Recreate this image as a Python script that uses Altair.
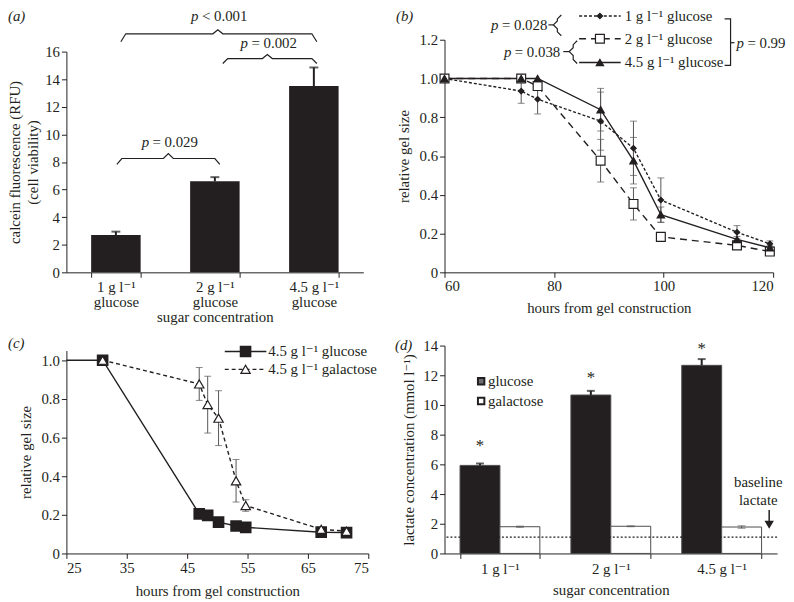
import altair as alt
import pandas as pd

FONT = "Liberation Serif, 'Times New Roman', 'DejaVu Serif', serif"
INK = "#231f20"
FS = 15

# ---------------- data ----------------
# (a) calcein fluorescence
a_categories = ["1 g l\u207b\u00b9", "2 g l\u207b\u00b9", "4.5 g l\u207b\u00b9"]
a_values = [2.7, 6.6, 13.5]
a_errors = [0.25, 0.3, 1.35]
a_ticks = [0, 2, 4, 6, 8, 10, 12, 14, 16]

# (b) relative gel size, three glucose concentrations
b_hours = [60, 74, 77, 88.5, 94.5, 99.5, 113.4, 119.4]
b_series = ["1 g l\u207b\u00b9 glucose", "2 g l\u207b\u00b9 glucose", "4.5 g l\u207b\u00b9 glucose"]
b_vals_1 = [1.0, 0.935, 0.893, 0.78, 0.64, 0.373, 0.207, 0.147]
b_errs_1 = [0, 0.063, 0.076, 0.15, 0.14, 0.114, 0.034, 0.015]
b_vals_2 = [1.0, 1.0, 0.961, 0.576, 0.353, 0.183, 0.139, 0.107]
b_errs_2 = [0, 0, 0.01, 0.11, 0.083, 0.015, 0.01, 0.01]
b_vals_45 = [1.0, 1.0, 1.0, 0.839, 0.576, 0.297, 0.17, 0.127]
b_errs_45 = [0, 0, 0, 0.11, 0.12, 0.04, 0.015, 0.01]
b_xticks = [60, 80, 100, 120]
b_yticks = [0, 0.2, 0.4, 0.6, 0.8, 1.0, 1.2]

# (c) glucose vs galactose
c_series = ["4.5 g l\u207b\u00b9 glucose", "4.5 g l\u207b\u00b9 galactose"]
c_hours_glu = [25, 31, 47, 48.4, 50.2, 53.1, 54.7, 67.2, 71.4]
c_vals_glu = [1.0, 1.0, 0.205, 0.197, 0.162, 0.142, 0.135, 0.11, 0.108]
c_hours_gal = [31, 47, 48.4, 50.2, 53.1, 54.7, 67.2, 71.4]
c_vals_gal = [1.0, 0.877, 0.77, 0.70, 0.376, 0.248, 0.125, 0.115]
c_errs_gal = [0, 0.085, 0.147, 0.142, 0.11, 0.03, 0.01, 0.01]
c_xticks = [25, 35, 45, 55, 65, 75]
c_yticks = [0, 0.2, 0.4, 0.6, 0.8, 1.0]

# (d) lactate
d_categories = ["1 g l\u207b\u00b9", "2 g l\u207b\u00b9", "4.5 g l\u207b\u00b9"]
d_sugars = ["glucose", "galactose"]
d_glu = [5.93, 10.67, 12.67]
d_glu_err = [0.13, 0.28, 0.42]
d_gal = [1.8, 1.83, 1.78]
d_gal_err = [0.04, 0.03, 0.08]
d_star_y = [7.2, 11.8, 13.8]
d_baseline = 1.1
d_ticks = [0, 2, 4, 6, 8, 10, 12, 14]

ONE = pd.DataFrame({"k": [0]})


# ---------------- helpers ----------------
def txt(s, x, y, italic=False, align="left", size=FS, baseline="middle"):
    return alt.Chart(ONE).mark_text(
        text=s, align=align, baseline=baseline, font=FONT, fontSize=size,
        fontStyle="italic" if italic else "normal", color=INK
    ).encode(x=alt.value(x), y=alt.value(y))


def ptext(x, y, rest):
    return txt("p", x, y, italic=True) + txt(rest, x + 11, y)


def poly(points, interp="linear", width=1.2):
    df = pd.DataFrame({"px": [p[0] for p in points], "py": [p[1] for p in points],
                       "o": list(range(len(points)))})
    return alt.Chart(df).mark_line(color=INK, strokeWidth=width, interpolate=interp).encode(
        x=alt.X("px:Q", scale=None, axis=None),
        y=alt.Y("py:Q", scale=None, axis=None),
        order="o:Q",
    )


def hbrace(x0, x1, xc, ye, ym, yt, d=5):
    return poly([(x0, ye), (x0 + d, ym), (xc - d, ym), (xc, yt), (xc + d, ym), (x1 - d, ym), (x1, ye)])


def vbrace_left(xl, y0, y1, yt, d=4):
    return poly([(xl + 2 * d, y0), (xl + d, y0 + d), (xl + d, yt - d), (xl, yt),
                 (xl + d, yt + d), (xl + d, y1 - d), (xl + 2 * d, y1)])


def rule_px(x, x2, y, y2=None, dash=None, width=1.5, color=INK):
    kw = dict(color=color, strokeWidth=width)
    if dash:
        kw["strokeDash"] = dash
    enc = dict(x=alt.value(x), x2=alt.value(x2), y=alt.value(y))
    if y2 is not None:
        enc["y2"] = alt.value(y2)
    return alt.Chart(ONE).mark_rule(**kw).encode(**enc)


def panel_label(letter, x, y):
    return txt("(" + letter + ")", x, y, italic=True)


yfmt = "datum.value == 0 ? '0' : format(datum.value, '.1f')"

# ---------------- panel (a) ----------------
a_df = pd.DataFrame({"cat": a_categories, "v": a_values, "e": a_errors})
a_df["top"] = a_df["v"] + a_df["e"]
xa = alt.X("cat:N", sort=a_categories,
           scale=alt.Scale(paddingInner=0.5, paddingOuter=0.25),
           axis=alt.Axis(title="sugar concentration", labelAngle=0, tickBand="extent",
                         labelExpr="datum.label ? [datum.label, 'glucose'] : ''", labelLineHeight=16,
                         titlePadding=0, labelPadding=2, labelOverlap=False))
ya = alt.Y("v:Q", scale=alt.Scale(domain=[0, 16], range=[235, 12], nice=False),
           axis=alt.Axis(values=a_ticks, title=["calcein fluorescence (RFU)", "(cell viability)"],
                         titlePadding=4, titleLineHeight=18, labelPadding=2, labelOverlap=False,
                         tickCount=9))
a_bars = alt.Chart(a_df).mark_bar(color=INK).encode(x=xa, y=ya)
a_err = alt.Chart(a_df).mark_rule(color=INK, strokeWidth=2).encode(
    x=alt.X("cat:N", sort=a_categories), y="v:Q", y2="top:Q")
a_cap = alt.Chart(a_df).mark_tick(color=INK, size=9, thickness=2, orient="horizontal").encode(
    x=alt.X("cat:N", sort=a_categories), y="top:Q")

panel_a = alt.layer(
    a_bars, a_err, a_cap,
    hbrace(51, 155, 103, 126, 120, 115), ptext(76, 103, "= 0.029"),
    hbrace(158, 253, 203, 24, 19, 15), ptext(176, 3, "= 0.002"),
    hbrace(55, 253, 153, 2, -6, -10), ptext(126, -24, "< 0.001"),
    panel_label("a", -59, -24),
).properties(width=300, height=235)

# ---------------- panel (b) ----------------
b_styles = [
    dict(name=b_series[0], vals=b_vals_1, errs=b_errs_1, dash=[3, 2], shape="diamond",
         fill=INK, size=30),
    dict(name=b_series[1], vals=b_vals_2, errs=b_errs_2, dash=[7, 5], shape="square",
         fill="white", size=80),
    dict(name=b_series[2], vals=b_vals_45, errs=b_errs_45, dash=None, shape="triangle-up",
         fill=INK, size=55),
]
xb = alt.X("h:Q", scale=alt.Scale(domain=[60, 120], nice=False),
           axis=alt.Axis(values=b_xticks, title="hours from gel construction", labelPadding=1,
                         titlePadding=8, labelOverlap=False))
yb = alt.Y("v:Q", scale=alt.Scale(domain=[0, 1.2], nice=False),
           axis=alt.Axis(values=b_yticks, title="relative gel size", labelExpr=yfmt, titlePadding=8,
                         labelOverlap=False, tickCount=7))
b_layers = []
b_points = []
legend_rows = [-24, -1, 23]
for i, (st, ry) in enumerate(zip(b_styles, legend_rows)):
    df = pd.DataFrame({"h": b_hours, "v": st["vals"], "e": st["errs"]})
    df["lo"] = df["v"] - df["e"]
    df["hi"] = df["v"] + df["e"]
    lk = dict(color=INK, strokeWidth=1.4)
    if st["dash"]:
        lk["strokeDash"] = st["dash"]
    b_layers.append(alt.Chart(df).mark_line(**lk).encode(x=xb if i == 0 else "h:Q",
                                                          y=yb if i == 0 else "v:Q"))
    e = alt.Chart(df).transform_filter("datum.e > 0")
    b_layers.append(e.mark_rule(color="#555555", strokeWidth=1).encode(x="h:Q", y="lo:Q", y2="hi:Q"))
    b_layers.append(e.mark_tick(color="#555555", size=7, thickness=1, orient="horizontal").encode(x="h:Q", y="lo:Q"))
    b_layers.append(e.mark_tick(color="#555555", size=7, thickness=1, orient="horizontal").encode(x="h:Q", y="hi:Q"))
    mk = dict(shape=st["shape"], size=st["size"], filled=True, fill=st["fill"], stroke=INK,
              strokeWidth=1.2, opacity=1)
    b_points.append(alt.Chart(df).mark_point(**mk).encode(x="h:Q", y="v:Q"))
    # legend entry
    b_points.append(rule_px(136, 178, ry, dash=st["dash"], width=1.4))
    b_points.append(alt.Chart(ONE).mark_point(**mk).encode(x=alt.value(157), y=alt.value(ry)))
    b_points.append(txt(st["name"], 182, ry))

panel_b = alt.layer(
    *b_layers, *b_points,
    vbrace_left(110, -25, -4, -15), rule_px(105, 110, -15, width=1.2), ptext(47, -15, "= 0.028"),
    vbrace_left(126, 1, 24, 12), rule_px(120, 126, 12, width=1.2), ptext(60, 12, "= 0.038"),
    poly([(283, -21), (289, -21), (289, 26), (283, 26)]), rule_px(289, 293, 3, width=1.2),
    ptext(295, 3, "= 0.99"),
    panel_label("b", -49, -24),
).properties(width=332, height=235)

# ---------------- panel (c) ----------------
xc = alt.X("h:Q", scale=alt.Scale(domain=[25, 75], nice=False),
           axis=alt.Axis(values=c_xticks, title="hours from gel construction", labelPadding=2,
                         titlePadding=8, labelOverlap=False))
yc = alt.Y("v:Q", scale=alt.Scale(domain=[0, 1.05], range=[210, 5], nice=False),
           axis=alt.Axis(values=c_yticks, title="relative gel size", labelExpr=yfmt, titlePadding=8,
                         labelOverlap=False))
c_glu_df = pd.DataFrame({"h": c_hours_glu, "v": c_vals_glu})
c_gal_df = pd.DataFrame({"h": c_hours_gal, "v": c_vals_gal, "e": c_errs_gal})
c_gal_df["lo"] = c_gal_df["v"] - c_gal_df["e"]
c_gal_df["hi"] = c_gal_df["v"] + c_gal_df["e"]
sq = dict(shape="square", size=95, filled=True, fill=INK, stroke=INK, opacity=1)
tri = dict(shape="triangle-up", size=90, filled=True, fill="white", stroke=INK, strokeWidth=1.2, opacity=1)
c_err = alt.Chart(c_gal_df).transform_filter("datum.e > 0")
panel_c = alt.layer(
    alt.Chart(c_glu_df).mark_line(color=INK, strokeWidth=1.4).encode(x=xc, y=yc),
    alt.Chart(c_gal_df).mark_line(color=INK, strokeWidth=1.4, strokeDash=[4, 3]).encode(x="h:Q", y="v:Q"),
    c_err.mark_rule(color="#555555", strokeWidth=1).encode(x="h:Q", y="lo:Q", y2="hi:Q"),
    c_err.mark_tick(color="#555555", size=7, thickness=1, orient="horizontal").encode(x="h:Q", y="lo:Q"),
    c_err.mark_tick(color="#555555", size=7, thickness=1, orient="horizontal").encode(x="h:Q", y="hi:Q"),
    alt.Chart(c_glu_df).transform_filter("datum.h > 25").mark_point(**sq).encode(x="h:Q", y="v:Q"),
    alt.Chart(c_gal_df).mark_point(**tri).encode(x="h:Q", y="v:Q"),
    rule_px(160, 202, 6, width=1.4),
    alt.Chart(ONE).mark_point(**sq).encode(x=alt.value(181), y=alt.value(6)),
    txt(c_series[0], 204, 6),
    rule_px(160, 202, 24, dash=[4, 3], width=1.4),
    alt.Chart(ONE).mark_point(**tri).encode(x=alt.value(181), y=alt.value(24)),
    txt(c_series[1], 204, 24),
    panel_label("c", -59, -3),
).properties(width=305, height=210)

# ---------------- panel (d) ----------------
d_rows = []
for i, cat in enumerate(d_categories):
    d_rows.append(dict(cat=cat, sugar="glucose", v=d_glu[i], lo=d_glu[i], hi=d_glu[i] + d_glu_err[i]))
    d_rows.append(dict(cat=cat, sugar="galactose", v=d_gal[i], lo=d_gal[i] - d_gal_err[i],
                       hi=d_gal[i] + d_gal_err[i]))
d_df = pd.DataFrame(d_rows)
star_df = pd.DataFrame({"cat": d_categories, "sugar": ["glucose"] * 3, "y": d_star_y})
xd = alt.X("cat:N", sort=d_categories,
           scale=alt.Scale(paddingInner=0.28, paddingOuter=0.14),
           axis=alt.Axis(title="sugar concentration", labelAngle=0, tickBand="extent",
                         labelPadding=3, titlePadding=6, labelOverlap=False))
xo = alt.XOffset("sugar:N", sort=d_sugars, scale=alt.Scale(paddingInner=0, paddingOuter=0))
yd = alt.Y("v:Q", scale=alt.Scale(domain=[0, 14], nice=False),
           axis=alt.Axis(values=d_ticks, title="lactate concentration (mmol l\u207b\u00b9)", titlePadding=6,
                         labelOverlap=False, tickCount=8))
d_bars = alt.Chart(d_df).mark_bar(stroke="#4d4d4d", strokeWidth=1).encode(
    x=xd, xOffset=xo, y=yd,
    color=alt.Color("sugar:N", scale=alt.Scale(domain=d_sugars, range=[INK, "white"]), legend=None))
d_glu_only = alt.Chart(d_df).transform_filter("datum.sugar == 'glucose'")
d_gal_only = alt.Chart(d_df).transform_filter("datum.sugar == 'galactose'")
xcat = alt.X("cat:N", sort=d_categories)
xoff = alt.XOffset("sugar:N", sort=d_sugars)
d_err = d_glu_only.mark_rule(color=INK, strokeWidth=2).encode(x=xcat, xOffset=xoff, y="lo:Q", y2="hi:Q")
d_cap = d_glu_only.mark_tick(color=INK, size=8, thickness=2, orient="horizontal").encode(
    x=xcat, xOffset=xoff, y="hi:Q")
d_gerr = d_gal_only.mark_rule(color="#555555", strokeWidth=1).encode(x=xcat, xOffset=xoff, y="lo:Q", y2="hi:Q")
d_gcap1 = d_gal_only.mark_tick(color="#555555", size=8, thickness=1, orient="horizontal").encode(
    x=xcat, xOffset=xoff, y="hi:Q")
d_gcap2 = d_gal_only.mark_tick(color="#555555", size=8, thickness=1, orient="horizontal").encode(
    x=xcat, xOffset=xoff, y="lo:Q")
d_stars = alt.Chart(star_df).mark_text(text="*", font=FONT, fontSize=17, color=INK, baseline="middle").encode(
    x=xcat, xOffset=xoff, y="y:Q")
d_base = alt.Chart(ONE).mark_rule(color=INK, strokeWidth=1.4, strokeDash=[2, 2]).encode(
    y=alt.datum(d_baseline))
panel_d = alt.layer(
    d_bars, d_err, d_cap, d_gerr, d_gcap1, d_gcap2, d_stars, d_base,
    alt.Chart(ONE).mark_point(shape="square", size=42, filled=True, fill="#6d6e71", stroke=INK,
                              opacity=1).encode(x=alt.value(37), y=alt.value(36)),
    txt(d_sugars[0], 44, 36),
    alt.Chart(ONE).mark_point(shape="square", size=42, filled=True, fill="white", stroke=INK,
                              opacity=1).encode(x=alt.value(37), y=alt.value(56)),
    txt(d_sugars[1], 44, 56),
    txt("baseline", 317, 138, align="center"),
    txt("lactate", 317, 156, align="center"),
    rule_px(328, 328, 166, y2=178, width=1.5),
    alt.Chart(ONE).mark_point(shape="triangle-down", size=90, filled=True, color=INK, opacity=1).encode(
        x=alt.value(328), y=alt.value(181)),
    panel_label("d", -50, -1),
).properties(width=336, height=210)

chart = alt.concat(
    panel_a, panel_b, panel_c, panel_d, columns=2,
    spacing={"row": 74, "column": 77}, bounds="flush",
).properties(
    autosize=alt.AutoSizeParams(type="none"),
    padding={"left": 59, "top": 29, "right": 727, "bottom": 565},
).configure_view(stroke=None).configure_axis(
    domainColor=INK, tickColor=INK, labelColor=INK, titleColor=INK,
    labelFont=FONT, titleFont=FONT, labelFontSize=FS, titleFontSize=FS,
    titleFontWeight="normal", grid=False, tickSize=5, domainWidth=1, tickWidth=1,
    labelOverlap=False,
)

chart.save("out.html", embed_options={"renderer": "svg", "actions": False})
